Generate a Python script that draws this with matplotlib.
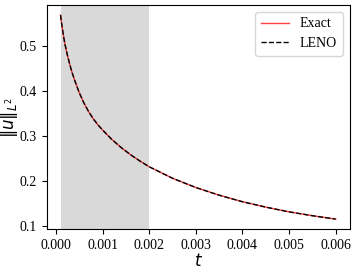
import matplotlib.pyplot as plt

# values
t = [0.0001, 0.000125, 0.00015, 0.000175, 0.0002, 0.00025, 0.0003,
     0.00035, 0.0004, 0.0005, 0.0006, 0.0007, 0.0008, 0.0009, 0.001,
     0.0012, 0.0014, 0.0016, 0.0018, 0.002, 0.0025, 0.003, 0.0035,
     0.004, 0.0045, 0.005, 0.0055, 0.006]
u_exact = [0.568, 0.548, 0.531, 0.515, 0.501, 0.478, 0.458,
           0.440, 0.4245, 0.3965, 0.3735, 0.3545, 0.3385, 0.325, 0.3135,
           0.2925, 0.2745, 0.2587, 0.2448, 0.232, 0.2065, 0.186, 0.169,
           0.1545, 0.1425, 0.132, 0.1235, 0.116]
u_leno = list(u_exact)

shade = (0.0001, 0.002)

plt.rcParams['font.family'] = ['Liberation Serif', 'DejaVu Serif']
plt.rcParams['mathtext.fontset'] = 'dejavusans'

fig = plt.figure(figsize=(3.57, 2.72), dpi=100)
ax = fig.add_axes([0.131, 0.157, 0.848, 0.825])

ax.axvspan(shade[0], shade[1], color='#d9d9d9', lw=0)
ax.plot(t, u_exact, color='red', alpha=0.75, lw=1.0, label='Exact')
ax.plot(t, u_leno, color='black', lw=1.0, ls='--', label='LENO')

ax.set_xticks([0.000, 0.001, 0.002, 0.003, 0.004, 0.005, 0.006])
ax.set_yticks([0.1, 0.2, 0.3, 0.4, 0.5])
ax.tick_params(labelsize=10)
ax.set_xlabel('$t$', fontsize=12, labelpad=1)
ax.set_ylabel(r'$\|u\|_{L^2}$', fontsize=12, labelpad=-0.5)
ax.legend(loc='upper right', fontsize=10)

fig.savefig('out.png', dpi=100)
